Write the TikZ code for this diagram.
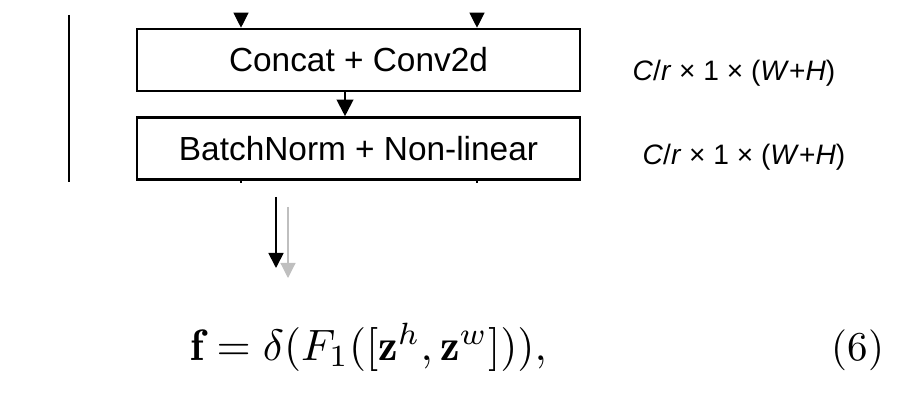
\documentclass[tikz,border=0pt]{standalone}
\usepackage{fontspec}
\newfontfamily\arialfont{Liberation Sans}
\usetikzlibrary{arrows.meta}

\begin{document}
\begin{tikzpicture}[x=0.03cm, y=-0.03cm,
  block/.style={draw, line width=2.2pt, minimum width=13.29cm, minimum height=1.86cm,
    inner sep=0pt, font=\arialfont\fontsize{28.5}{34}\selectfont},
  dims/.style={font=\arialfont\fontsize{24}{29}\selectfont},
  tip/.style={-{Triangle[length=0.45cm, width=0.45cm]}},
  ]
  \useasboundingbox (0,0) rectangle (915,401);

  % left bar
  \draw[line width=2.4pt] (69,15) -- (69,182);

  \node[block] (conv) at (358.5,60) {Concat + Conv2d};
  \node[block] (bn) at (358.5,148.5) {BatchNorm + Non-linear};

  \node[dims] (dconv) at (734,73) {\textit{C}/\textit{r} × 1 × (\textit{W}+\textit{H})};
  \node[dims] (dbn) at (744,157) {\textit{C}/\textit{r} × 1 × (\textit{W}+\textit{H})};

  % inputs from above
  \coordinate (inh) at (241,14);
  \coordinate (inw) at (477,14);
  \draw[tip, line width=1pt] (inh) -- (inh |- conv.north);
  \draw[tip, line width=1pt] (inw) -- (inw |- conv.north);
  \draw[-{Triangle[length=0.5cm, width=0.5cm]}, line width=1.8pt] (conv.south -| 345,0) -- (bn.north -| 345,0);

  % stubs below
  \coordinate (outh) at (241,183);
  \coordinate (outw) at (477,183);
  \draw[line width=1pt] (outh |- bn.south) -- (outh);
  \draw[line width=1pt] (outw |- bn.south) -- (outw);

  % split arrows
  \coordinate (blk) at (276,197);
  \coordinate (gry) at (288,207);
  \coordinate (blkend) at (276,268);
  \coordinate (gryend) at (288,278);
  \draw[tip, line width=1.5pt] (blk) -- (blkend);
  \draw[tip, line width=1pt, black!25] (gry) -- (gryend);

  \node[scale=3.75, anchor=base west, inner sep=0pt] (eq) at (190,360)
    {$\mathbf{f}=\delta(F_1([\mathbf{z}^h,\mathbf{z}^w])),$};
  \node[scale=3.5, anchor=base, inner sep=0pt] (eqnum) at (858,360) {(6)};
\end{tikzpicture}
\end{document}
